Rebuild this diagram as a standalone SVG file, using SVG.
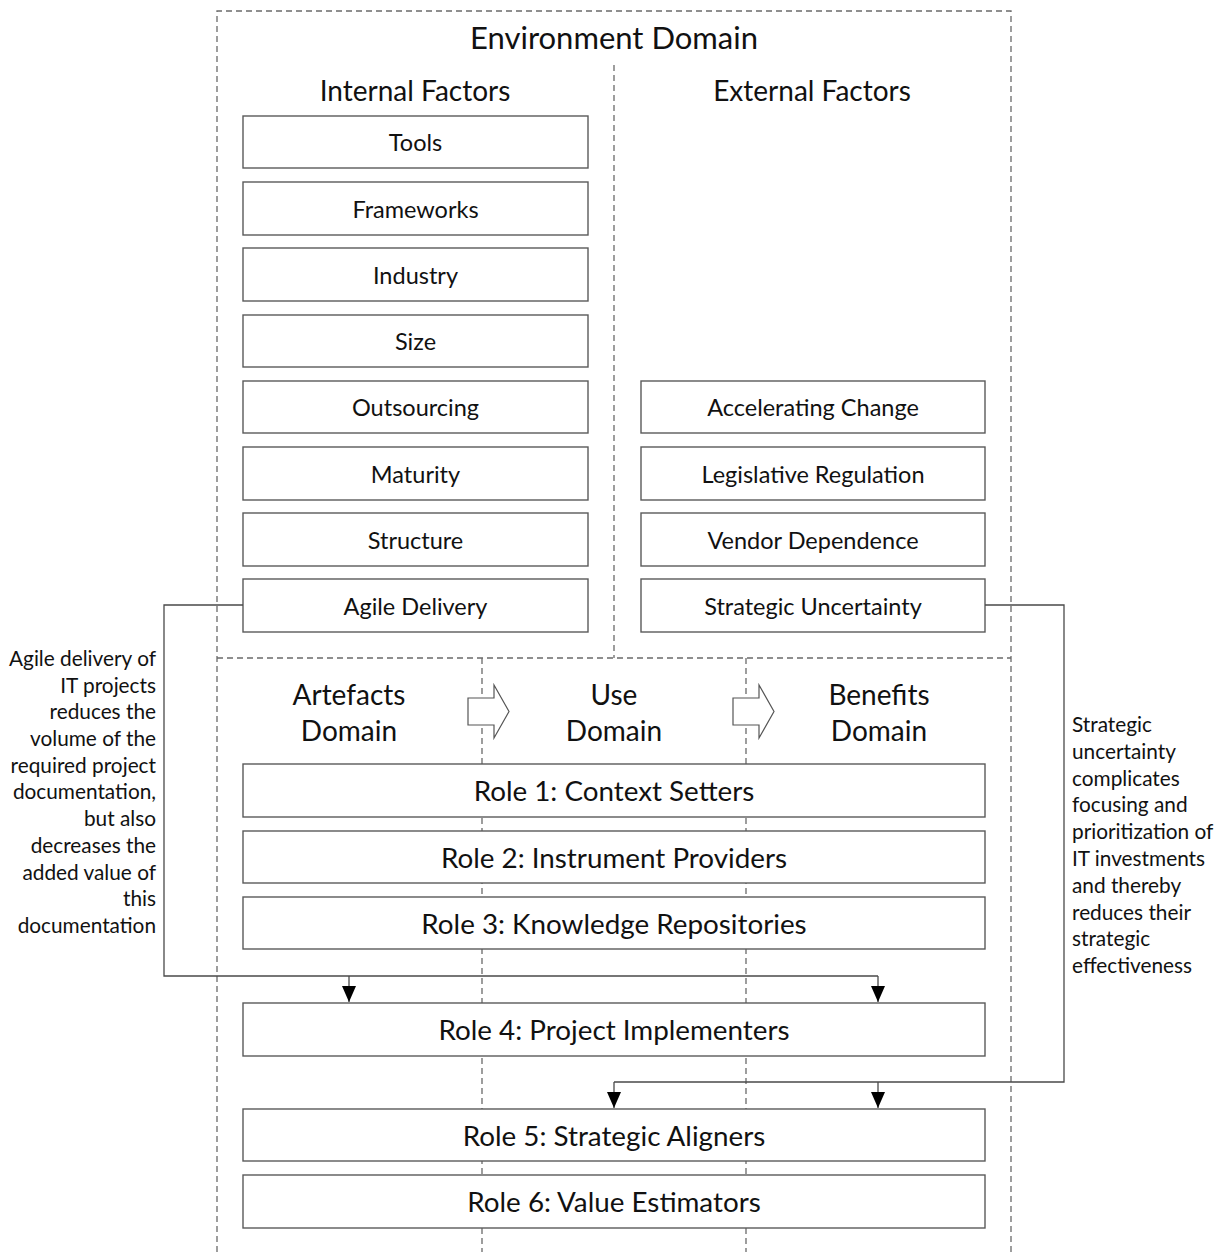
<svg xmlns="http://www.w3.org/2000/svg" width="1223" height="1252" viewBox="0 0 1223 1252">
  <style>
    text { font-family: Lato, "Open Sans", "Liberation Sans", sans-serif; fill: #111; }
    .dash { fill: none; stroke: #6a6a6a; stroke-width: 1.3; stroke-dasharray: 6 4; }
    .box { fill: #fff; stroke: #5a5a5a; stroke-width: 1.4; }
    .lbl { font-size: 23.5px; text-anchor: middle; dominant-baseline: central; }
    .role { font-size: 27.8px; text-anchor: middle; dominant-baseline: central; }
    .head { font-size: 28px; text-anchor: middle; dominant-baseline: central; }
    .title { font-size: 31px; text-anchor: middle; dominant-baseline: central; }
    .note { font-size: 20.8px; dominant-baseline: central; }
    .conn { fill: none; stroke: #4a4a4a; stroke-width: 1.3; }
    .flow { fill: #fff; stroke: #555; stroke-width: 1.2; }
  </style>
  <defs>
    <marker id="arrow" viewBox="0 0 16 14" refX="16" refY="7" markerWidth="16" markerHeight="14" markerUnits="userSpaceOnUse" orient="auto">
      <path d="M0,0 L16,7 L0,14 z" fill="#000"/>
    </marker>
  </defs>

  <rect width="1223" height="1252" fill="#fff"/>

  <!-- domain frames -->
  <g id="frames">
    <path class="dash" d="M217,1252 V11 H1011 V1252"/>
    <path class="dash" d="M614,65 V658"/>
    <path class="dash" d="M217,658 H1011"/>
    <path class="dash" d="M482,658 V1252"/>
    <path class="dash" d="M746,658 V1252"/>
  </g>

  <!-- headings -->
  <g id="headings">
    <text class="title" x="614" y="37">Environment Domain</text>
    <text class="head" x="415" y="90">Internal Factors</text>
    <text class="head" x="812" y="90">External Factors</text>
    <text class="head" x="349" y="694">Artefacts</text>
    <text class="head" x="349" y="730">Domain</text>
    <text class="head" x="614" y="694">Use</text>
    <text class="head" x="614" y="730">Domain</text>
    <text class="head" x="879" y="694">Benefits</text>
    <text class="head" x="879" y="730">Domain</text>
  </g>

  <!-- flow arrows between domains -->
  <g id="flow-arrows">
    <path class="flow" d="M468,698 H494 V685 L509,711.5 L494,738 V725 H468 Z"/>
    <path class="flow" d="M733,698 H759 V685 L774,711.5 L759,738 V725 H733 Z"/>
  </g>

  <!-- internal factors -->
  <g id="tools"><rect class="box" x="243" y="116" width="345" height="52"/><text class="lbl" x="415.5" y="142">Tools</text></g>
  <g id="frameworks"><rect class="box" x="243" y="182" width="345" height="53"/><text class="lbl" x="415.5" y="208.5">Frameworks</text></g>
  <g id="industry"><rect class="box" x="243" y="248" width="345" height="53"/><text class="lbl" x="415.5" y="274.5">Industry</text></g>
  <g id="size"><rect class="box" x="243" y="315" width="345" height="52"/><text class="lbl" x="415.5" y="341">Size</text></g>
  <g id="outsourcing"><rect class="box" x="243" y="381" width="345" height="52"/><text class="lbl" x="415.5" y="407">Outsourcing</text></g>
  <g id="maturity"><rect class="box" x="243" y="447" width="345" height="53"/><text class="lbl" x="415.5" y="473.5">Maturity</text></g>
  <g id="structure"><rect class="box" x="243" y="513" width="345" height="53"/><text class="lbl" x="415.5" y="539.5">Structure</text></g>
  <g id="agile-delivery"><rect class="box" x="243" y="579" width="345" height="53"/><text class="lbl" x="415.5" y="605.5">Agile Delivery</text></g>

  <!-- external factors -->
  <g id="accelerating-change"><rect class="box" x="641" y="381" width="344" height="52"/><text class="lbl" x="813" y="407">Accelerating Change</text></g>
  <g id="legislative-regulation"><rect class="box" x="641" y="447" width="344" height="53"/><text class="lbl" x="813" y="473.5">Legislative Regulation</text></g>
  <g id="vendor-dependence"><rect class="box" x="641" y="513" width="344" height="53"/><text class="lbl" x="813" y="539.5">Vendor Dependence</text></g>
  <g id="strategic-uncertainty"><rect class="box" x="641" y="579" width="344" height="53"/><text class="lbl" x="813" y="605.5">Strategic Uncertainty</text></g>

  <!-- roles -->
  <g id="role1"><rect class="box" x="243" y="764" width="742" height="53"/><text class="role" x="614" y="790.5">Role 1: Context Setters</text></g>
  <g id="role2"><rect class="box" x="243" y="831" width="742" height="52"/><text class="role" x="614" y="857">Role 2: Instrument Providers</text></g>
  <g id="role3"><rect class="box" x="243" y="897" width="742" height="52"/><text class="role" x="614" y="923">Role 3: Knowledge Repositories</text></g>
  <g id="role4"><rect class="box" x="243" y="1003" width="742" height="53"/><text class="role" x="614" y="1029.5">Role 4: Project Implementers</text></g>
  <g id="role5"><rect class="box" x="243" y="1109" width="742" height="52"/><text class="role" x="614" y="1135">Role 5: Strategic Aligners</text></g>
  <g id="role6"><rect class="box" x="243" y="1175" width="742" height="53"/><text class="role" x="614" y="1201.5">Role 6: Value Estimators</text></g>

  <!-- influence connectors -->
  <g id="connectors">
    <path class="conn" d="M243,605 H164 V976 H878"/>
    <path class="conn" d="M349,976 V1002" marker-end="url(#arrow)"/>
    <path class="conn" d="M878,976 V1002" marker-end="url(#arrow)"/>
    <path class="conn" d="M985,605 H1064 V1082 H614"/>
    <path class="conn" d="M614,1082 V1108" marker-end="url(#arrow)"/>
    <path class="conn" d="M878,1082 V1108" marker-end="url(#arrow)"/>
  </g>

  <!-- connector annotations -->
  <g id="note-agile" text-anchor="end">
    <text class="note" x="156" y="657">Agile delivery of</text>
    <text class="note" x="156" y="684">IT projects</text>
    <text class="note" x="156" y="710">reduces the</text>
    <text class="note" x="156" y="737">volume of the</text>
    <text class="note" x="156" y="764">required project</text>
    <text class="note" x="156" y="790">documentation,</text>
    <text class="note" x="156" y="817">but also</text>
    <text class="note" x="156" y="844">decreases the</text>
    <text class="note" x="156" y="871">added value of</text>
    <text class="note" x="156" y="897">this</text>
    <text class="note" x="156" y="924">documentation</text>
  </g>
  <g id="note-strategic">
    <text class="note" x="1072" y="723">Strategic</text>
    <text class="note" x="1072" y="750">uncertainty</text>
    <text class="note" x="1072" y="777">complicates</text>
    <text class="note" x="1072" y="803">focusing and</text>
    <text class="note" x="1072" y="830">prioritization of</text>
    <text class="note" x="1072" y="857">IT investments</text>
    <text class="note" x="1072" y="884">and thereby</text>
    <text class="note" x="1072" y="911">reduces their</text>
    <text class="note" x="1072" y="937">strategic</text>
    <text class="note" x="1072" y="964">effectiveness</text>
  </g>
</svg>
